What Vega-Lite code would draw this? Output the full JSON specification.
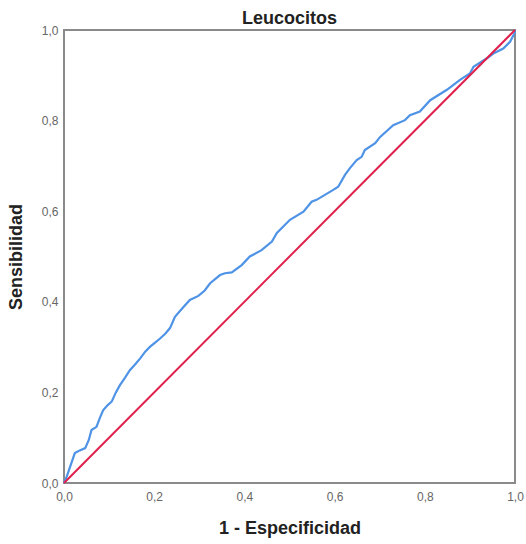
{
  "$schema": "https://vega.github.io/schema/vega-lite/v6.json",
  "width": 451,
  "height": 453,
  "autosize": {"type": "none"},
  "padding": {"left": 64, "top": 30, "right": 11, "bottom": 61},
  "background": "white",
  "title": {
    "text": "Leucocitos",
    "font": "Liberation Sans",
    "fontSize": 18,
    "fontWeight": "bold",
    "color": "#222222",
    "anchor": "middle",
    "offset": -4
  },
  "data": {
    "values": [
      {"curva": "ROC", "fpr": 0, "tpr": 0},
      {"curva": "ROC", "fpr": 0.006, "tpr": 0.014},
      {"curva": "ROC", "fpr": 0.015, "tpr": 0.04},
      {"curva": "ROC", "fpr": 0.024, "tpr": 0.066},
      {"curva": "ROC", "fpr": 0.035, "tpr": 0.072},
      {"curva": "ROC", "fpr": 0.047, "tpr": 0.077},
      {"curva": "ROC", "fpr": 0.055, "tpr": 0.095},
      {"curva": "ROC", "fpr": 0.061, "tpr": 0.117},
      {"curva": "ROC", "fpr": 0.072, "tpr": 0.124},
      {"curva": "ROC", "fpr": 0.08, "tpr": 0.145},
      {"curva": "ROC", "fpr": 0.087, "tpr": 0.161},
      {"curva": "ROC", "fpr": 0.097, "tpr": 0.172},
      {"curva": "ROC", "fpr": 0.106, "tpr": 0.18},
      {"curva": "ROC", "fpr": 0.115, "tpr": 0.2},
      {"curva": "ROC", "fpr": 0.124, "tpr": 0.216},
      {"curva": "ROC", "fpr": 0.135, "tpr": 0.232},
      {"curva": "ROC", "fpr": 0.146, "tpr": 0.249},
      {"curva": "ROC", "fpr": 0.158, "tpr": 0.262},
      {"curva": "ROC", "fpr": 0.169, "tpr": 0.275},
      {"curva": "ROC", "fpr": 0.18, "tpr": 0.29},
      {"curva": "ROC", "fpr": 0.191, "tpr": 0.301},
      {"curva": "ROC", "fpr": 0.202, "tpr": 0.31},
      {"curva": "ROC", "fpr": 0.213, "tpr": 0.319},
      {"curva": "ROC", "fpr": 0.225, "tpr": 0.33},
      {"curva": "ROC", "fpr": 0.235, "tpr": 0.342},
      {"curva": "ROC", "fpr": 0.246, "tpr": 0.367},
      {"curva": "ROC", "fpr": 0.262, "tpr": 0.385},
      {"curva": "ROC", "fpr": 0.279, "tpr": 0.404},
      {"curva": "ROC", "fpr": 0.298, "tpr": 0.413},
      {"curva": "ROC", "fpr": 0.312, "tpr": 0.425},
      {"curva": "ROC", "fpr": 0.324, "tpr": 0.441},
      {"curva": "ROC", "fpr": 0.346, "tpr": 0.459},
      {"curva": "ROC", "fpr": 0.357, "tpr": 0.463},
      {"curva": "ROC", "fpr": 0.372, "tpr": 0.465},
      {"curva": "ROC", "fpr": 0.394, "tpr": 0.481},
      {"curva": "ROC", "fpr": 0.412, "tpr": 0.5},
      {"curva": "ROC", "fpr": 0.438, "tpr": 0.514},
      {"curva": "ROC", "fpr": 0.461, "tpr": 0.533},
      {"curva": "ROC", "fpr": 0.472, "tpr": 0.552},
      {"curva": "ROC", "fpr": 0.501, "tpr": 0.581},
      {"curva": "ROC", "fpr": 0.531, "tpr": 0.599},
      {"curva": "ROC", "fpr": 0.549, "tpr": 0.621},
      {"curva": "ROC", "fpr": 0.56, "tpr": 0.625},
      {"curva": "ROC", "fpr": 0.597, "tpr": 0.647},
      {"curva": "ROC", "fpr": 0.608, "tpr": 0.654},
      {"curva": "ROC", "fpr": 0.623, "tpr": 0.68},
      {"curva": "ROC", "fpr": 0.634, "tpr": 0.695},
      {"curva": "ROC", "fpr": 0.649, "tpr": 0.713},
      {"curva": "ROC", "fpr": 0.66, "tpr": 0.72},
      {"curva": "ROC", "fpr": 0.667, "tpr": 0.735},
      {"curva": "ROC", "fpr": 0.69, "tpr": 0.75},
      {"curva": "ROC", "fpr": 0.701, "tpr": 0.764},
      {"curva": "ROC", "fpr": 0.73, "tpr": 0.79},
      {"curva": "ROC", "fpr": 0.756, "tpr": 0.801},
      {"curva": "ROC", "fpr": 0.767, "tpr": 0.812},
      {"curva": "ROC", "fpr": 0.789, "tpr": 0.82},
      {"curva": "ROC", "fpr": 0.812, "tpr": 0.845},
      {"curva": "ROC", "fpr": 0.849, "tpr": 0.868},
      {"curva": "ROC", "fpr": 0.878, "tpr": 0.89},
      {"curva": "ROC", "fpr": 0.9, "tpr": 0.904},
      {"curva": "ROC", "fpr": 0.908, "tpr": 0.919},
      {"curva": "ROC", "fpr": 0.937, "tpr": 0.937},
      {"curva": "ROC", "fpr": 0.952, "tpr": 0.948},
      {"curva": "ROC", "fpr": 0.974, "tpr": 0.959},
      {"curva": "ROC", "fpr": 0.989, "tpr": 0.974},
      {"curva": "ROC", "fpr": 0.999, "tpr": 0.993},
      {"curva": "ROC", "fpr": 1.0, "tpr": 1.0},
      {"curva": "Referencia", "fpr": 0, "tpr": 0},
      {"curva": "Referencia", "fpr": 1, "tpr": 1}
    ]
  },
  "encoding": {
    "x": {
      "field": "fpr",
      "type": "quantitative",
      "scale": {"domain": [0, 1], "nice": false, "zero": false},
      "axis": {
        "title": "1 - Especificidad",
        "values": [0, 0.2, 0.4, 0.6, 0.8, 1],
        "labelExpr": "replace(format(datum.value, '.1f'), '.', ',')",
        "grid": false,
        "domain": false,
        "ticks": false,
        "labelPadding": 8,
        "titlePadding": 17,
        "labelFlush": false
      }
    },
    "y": {
      "field": "tpr",
      "type": "quantitative",
      "scale": {"domain": [0, 1], "nice": false, "zero": false},
      "axis": {
        "title": "Sensibilidad",
        "values": [0, 0.2, 0.4, 0.6, 0.8, 1],
        "labelExpr": "replace(format(datum.value, '.1f'), '.', ',')",
        "grid": false,
        "domain": false,
        "ticks": false,
        "labelPadding": 6,
        "titlePadding": 16,
        "labelFlush": false
      }
    }
  },
  "layer": [
    {
      "transform": [{"filter": "datum.curva == 'ROC'"}],
      "mark": {"type": "line", "color": "#4f93e6", "strokeWidth": 2.2, "interpolate": "linear"}
    },
    {
      "transform": [{"filter": "datum.curva == 'Referencia'"}],
      "mark": {"type": "line", "color": "#e0204c", "strokeWidth": 2}
    }
  ],
  "config": {
    "view": {"stroke": "#8a8a8a", "strokeWidth": 2},
    "axis": {
      "labelFont": "Liberation Sans",
      "labelFontSize": 12,
      "labelColor": "#666666",
      "titleFont": "Liberation Sans",
      "titleFontSize": 18,
      "titleFontWeight": "bold",
      "titleColor": "#222222"
    }
  }
}
